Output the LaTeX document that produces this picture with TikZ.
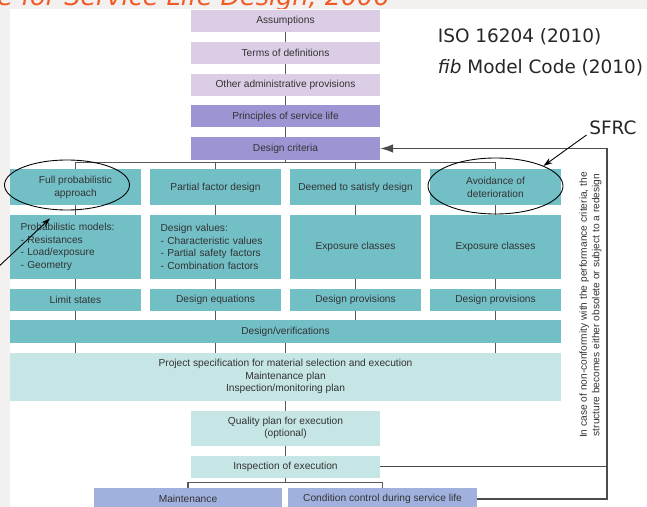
\documentclass[tikz,border=0pt]{standalone}
\usepackage{fontspec}
\setmainfont{Liberation Sans}
\newfontfamily\refsans{DejaVu Sans}
\usepackage{xcolor}
\usepackage{tikz}
\usetikzlibrary{positioning}
\usetikzlibrary{shapes.geometric}
\usetikzlibrary{arrows.meta}
\definecolor{lavbox}{HTML}{DACDE5}
\definecolor{purpbox}{HTML}{9C95D3}
\definecolor{tealbox}{HTML}{72BFC6}
\definecolor{palebox}{HTML}{C6E5E5}
\definecolor{bluebox}{HTML}{A0B1DE}
\definecolor{slidegray}{HTML}{F2F1EF}
\definecolor{titlered}{HTML}{F05A28}
\tikzset{>={Stealth[length=1.8mm, width=1.2mm]}}
\tikzset{sld-line/.style={line width=0.6pt, draw=black!65}}
\tikzset{sld-back/.style={line width=1pt, draw=black!70}}
\tikzset{sld-ptr/.style={->, line width=0.5pt}}
\tikzset{sld-node/.style={inner sep=0, outer sep=0, minimum height=0.44cm, align=center, text=black!80, font=\fontsize{5.8}{7.2}\selectfont}}
\tikzset{sld-lav/.style={sld-node, fill=lavbox, minimum width=3.78cm}}
\tikzset{sld-purple/.style={sld-node, fill=purpbox, minimum width=3.78cm}}
\tikzset{sld-teal/.style={sld-node, fill=tealbox, minimum width=2.62cm}}
\tikzset{sld-pale/.style={sld-node, fill=palebox}}
\tikzset{sld-blue/.style={sld-node, fill=bluebox, minimum height=0.46cm}}
\tikzset{sld-ring/.style={draw, ellipse, inner sep=0, line width=0.5pt}}
\tikzset{sld-ref/.style={inner sep=0, font=\refsans\fontsize{10.5}{12}\selectfont, text=black!85}}
\begin{document}
\begin{tikzpicture}
            \useasboundingbox (0,0) rectangle (12.94,-10.14);
            \clip (0,0) rectangle (12.94,-10.14);
            \fill[slidegray] (0,0) rectangle (12.94,-10.14);
            \node[anchor=base east, inner sep=0, text=titlered, font=\refsans\itshape\fontsize{14.5}{17}\selectfont] (title) at (7.8,-0.12) {Model Code for Service Life Design, 2006};
            \fill[white] (0.2,-0.18) rectangle (12.94,-10.14);

            \node[sld-lav] (assum) at (5.71,-0.42) {Assumptions};
            \node[sld-lav, below=0.2cm of assum] (terms) {Terms of definitions};
            \node[sld-lav, below=0.2cm of terms] (admin) {Other administrative provisions};
            \node[sld-purple, below=0.19cm of admin] (princ) {Principles of service life};
            \node[sld-purple, below=0.19cm of princ, minimum height=0.46cm] (crit) {Design criteria};

            \node[sld-teal, minimum height=0.72cm, below=0.19cm of crit, xshift=-4.2cm] (fpa) {Full probabilistic\\approach};
            \node[sld-teal, minimum height=0.72cm, below=0.19cm of crit, xshift=-1.4cm] (pfd) {Partial factor design};
            \node[sld-teal, minimum height=0.72cm, below=0.19cm of crit, xshift=1.4cm] (dts) {Deemed to satisfy design};
            \node[sld-teal, minimum height=0.72cm, below=0.19cm of crit, xshift=4.2cm] (avd) {Avoidance of\\deterioration};

            \node[sld-teal, minimum height=1.28cm, text width=2.2cm, align=left, below=0.19cm of fpa] (pm) {Probabilistic models:\\- Resistances\\- Load/exposure\\- Geometry};
            \node[sld-teal, minimum height=1.28cm, text width=2.2cm, align=left, below=0.19cm of pfd] (dval) {Design values:\\- Characteristic values\\- Partial safety factors\\- Combination factors};
            \node[sld-teal, minimum height=1.28cm, below=0.19cm of dts] (ec1) {Exposure classes};
            \node[sld-teal, minimum height=1.28cm, below=0.19cm of avd] (ec2) {Exposure classes};

            \node[sld-teal, below=0.19cm of pm] (ls) {Limit states};
            \node[sld-teal, below=0.19cm of dval] (deq) {Design equations};
            \node[sld-teal, below=0.19cm of ec1] (dp1) {Design provisions};
            \node[sld-teal, below=0.19cm of ec2] (dp2) {Design provisions};

            \node[sld-teal, minimum width=11.02cm, minimum height=0.46cm, below=0.19cm of ls, xshift=4.2cm] (verif) {Design/verifications};
            \node[sld-pale, minimum width=11.02cm, minimum height=0.96cm, below=0.19cm of verif] (spec) {Project specification for material selection and execution\\Maintenance plan\\Inspection/monitoring plan};
            \node[sld-pale, minimum width=3.78cm, minimum height=0.7cm, below=0.2cm of spec] (qplan) {Quality plan for execution\\(optional)};
            \node[sld-pale, minimum width=3.78cm, below=0.2cm of qplan] (insp) {Inspection of execution};
            \node[sld-blue, minimum width=3.76cm, below=0.2cm of insp, xshift=-1.95cm] (maint) {Maintenance};
            \node[sld-blue, minimum width=3.78cm, right=0.12cm of maint] (cond) {Condition control during service life};

            \draw[sld-line] (assum) -- (terms);
            \draw[sld-line] (terms) -- (admin);
            \draw[sld-line] (admin) -- (princ);
            \draw[sld-line] (princ) -- (crit);

            \coordinate (critbus) at ([yshift=0.14cm]fpa.north);
            \draw[sld-line] (crit) -- (crit |- critbus);
            \draw[sld-line] (fpa) |- (critbus -| avd) -- (avd);
            \draw[sld-line] (pfd) -- (pfd |- critbus);
            \draw[sld-line] (dts) -- (dts |- critbus);

            \foreach \a/\b in {fpa/pm, pfd/dval, dts/ec1, avd/ec2, pm/ls, dval/deq, ec1/dp1, ec2/dp2}
                \draw[sld-line] (\a) -- (\b);
            \foreach \a in {ls, deq, dp1, dp2}
                \draw[sld-line] (\a) -- (\a |- verif.north);
            \foreach \a in {ls, deq, dp2}
                \draw[sld-line] (verif.south -| \a) -- (spec.north -| \a);
            \draw[sld-line] (verif) -- (spec);
            \draw[sld-line] (spec) -- (qplan);
            \draw[sld-line] (qplan) -- (insp);

            \coordinate (inspbus) at ([yshift=0.1cm]maint.north);
            \draw[sld-line] (insp) -- (insp |- inspbus);
            \draw[sld-line] (maint) |- (inspbus -| cond) -- (cond);

            % feedback loop back to the design criteria
            \coordinate (back) at (12.14,0);
            \draw[sld-back, -{Latex[length=2.6mm, width=1.7mm]}] (cond) -| (back |- crit) -- (crit);
            \draw[sld-back] (insp) -- (insp -| back);
            \node[sld-node, rotate=90] (nonconf) at (11.81,-6.1) {In case of non-conformity with the performance criteria, the\\structure becomes either obsolete or subject to a redesign};

            \node[sld-ref, anchor=base west] (iso) at (8.75,-0.86) {ISO 16204 (2010)};
            \node[sld-ref, anchor=base west] (mc) at (8.75,-1.48) {\textit{fib} Model Code (2010)};
            \node[sld-ref, anchor=base west] (sfrc) at (11.78,-2.7) {SFRC};

            \node[sld-ring, minimum width=2.5cm, minimum height=1.0cm] (ringA) at ([xshift=-0.17cm, yshift=0.05cm]fpa.center) {};
            \node[sld-ring, minimum width=2.7cm, minimum height=1.12cm] (ringB) at ([yshift=0.03cm]avd.center) {};
            \draw[sld-ptr] ([xshift=-0.05cm]sfrc.base west) -- (ringB.north east);
            \coordinate (ptrA) at (-0.1,-5.4);
            \draw[sld-ptr] (ptrA) -- ([shift={(-0.34cm,-0.16cm)}]ringA.south);

        \end{tikzpicture}
\end{document}
